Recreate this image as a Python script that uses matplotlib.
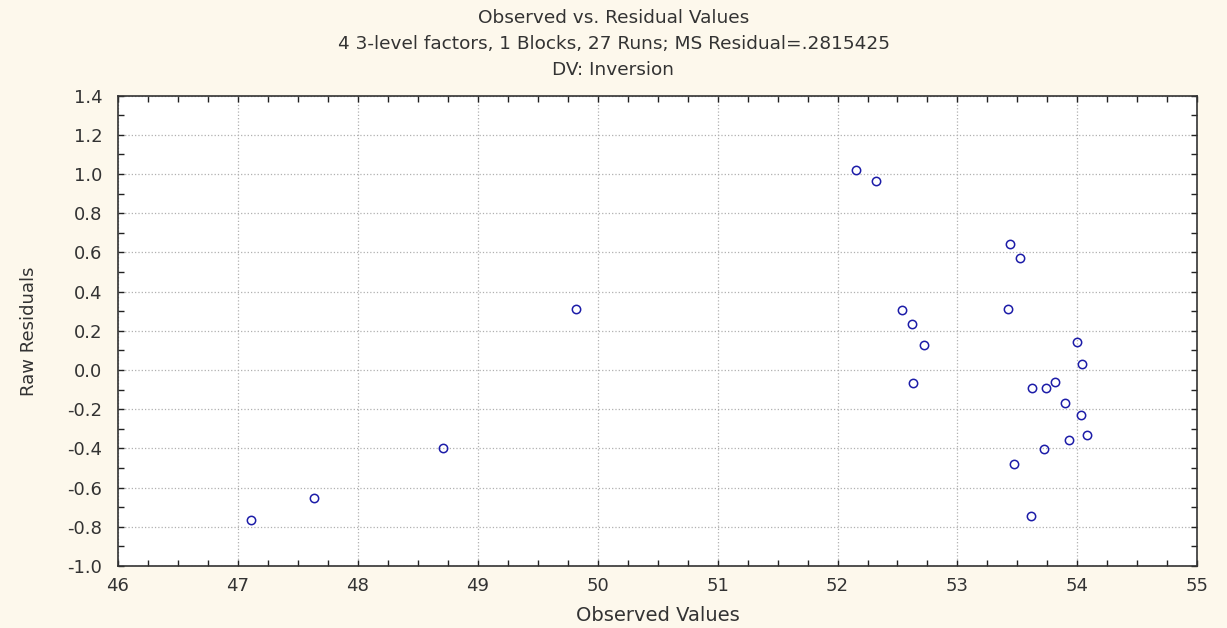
import matplotlib
matplotlib.use("Agg")
import matplotlib.pyplot as plt
from matplotlib.ticker import MultipleLocator, FormatStrFormatter

plt.rcParams['font.family'] = ['DejaVu Sans']

observed = [47.11, 47.64, 48.71, 49.82,
            52.15, 52.32, 53.44, 53.52, 52.54, 53.42, 52.62, 52.72,
            54.00, 54.04, 52.63, 53.62, 53.74, 53.81, 53.90, 54.03,
            54.08, 53.93, 53.72, 53.47, 53.61]
residuals = [-0.763, -0.651, -0.397, 0.31,
             1.021, 0.962, 0.641, 0.572, 0.304, 0.309, 0.234, 0.126,
             0.144, 0.031, -0.066, -0.093, -0.093, -0.061, -0.168, -0.232,
             -0.334, -0.356, -0.404, -0.478, -0.743]

bg = '#fdf8ec'
txt = '#333333'
fig = plt.figure(figsize=(12.27, 6.28), dpi=100, facecolor=bg)
ax = fig.add_axes([0.0959, 0.0987, 0.880, 0.749])
ax.set_facecolor('white')

ax.plot(observed, residuals, linestyle='none', marker='o', markersize=6,
        markerfacecolor='none', markeredgecolor='#1c1ca8', markeredgewidth=1.1)

ax.set_xlim(46, 55)
ax.set_ylim(-1.0, 1.4)
ax.xaxis.set_major_locator(MultipleLocator(1))
ax.xaxis.set_minor_locator(MultipleLocator(0.25))
ax.yaxis.set_major_locator(MultipleLocator(0.2))
ax.yaxis.set_minor_locator(MultipleLocator(0.1))
ax.yaxis.set_major_formatter(FormatStrFormatter('%.1f'))

ax.grid(True, which='major', linestyle=':', color='#b0b0b0', linewidth=0.9)
ax.set_axisbelow(True)
ax.tick_params(which='both', direction='in', top=True, right=True,
               color='#222222', labelsize=13, labelcolor=txt)
ax.tick_params(which='major', length=4, width=1)
ax.tick_params(which='minor', length=4, width=1)
ax.tick_params(axis='x', pad=8)
ax.tick_params(axis='y', pad=11)
for s in ax.spines.values():
    s.set_color('#333333')
    s.set_linewidth(1.2)

ax.set_xlabel('Observed Values', fontsize=14, color=txt)
ax.set_ylabel('Raw Residuals', fontsize=13, color=txt)
ax.xaxis.set_label_coords(0.5, -0.085)
ax.yaxis.set_label_coords(-0.074, 0.5)

fig.text(0.5, 0.971, 'Observed vs. Residual Values', ha='center', va='center',
         fontsize=13.3, color=txt)
fig.text(0.5, 0.93, '4 3-level factors, 1 Blocks, 27 Runs; MS Residual=.2815425',
         ha='center', va='center', fontsize=13.3, color=txt)
fig.text(0.5, 0.889, 'DV: Inversion', ha='center', va='center',
         fontsize=13.3, color=txt)

fig.savefig('out.png', dpi=100, facecolor=bg)
